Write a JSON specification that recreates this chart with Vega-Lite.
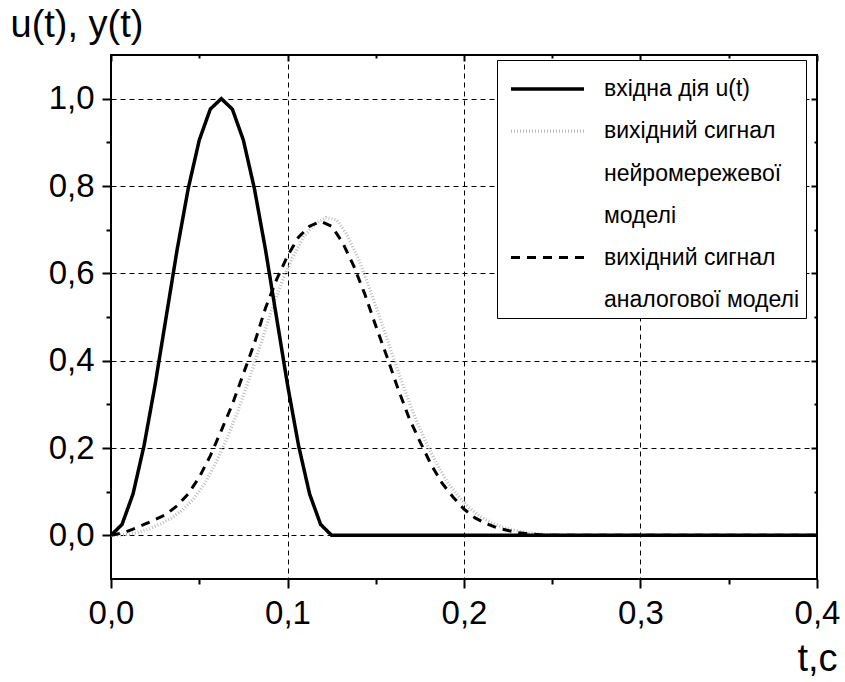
{
  "$schema": "https://vega.github.io/schema/vega-lite/v6.json",
  "width": 706,
  "height": 524,
  "autosize": {"type": "none"},
  "padding": {"left": 111, "top": 55, "right": 28, "bottom": 103},
  "background": "white",
  "config": {
    "font": "Liberation Sans",
    "view": {"stroke": "black", "strokeWidth": 2},
    "axis": {"domain": false}
  },
  "data": {
    "values": [
      {"t": 0, "y": 0, "s": "nn"},
      {"t": 0.00925, "y": 0.002, "s": "nn"},
      {"t": 0.0155, "y": 0.007, "s": "nn"},
      {"t": 0.02175, "y": 0.015, "s": "nn"},
      {"t": 0.028, "y": 0.026, "s": "nn"},
      {"t": 0.03425, "y": 0.04, "s": "nn"},
      {"t": 0.0405, "y": 0.058, "s": "nn"},
      {"t": 0.04675, "y": 0.083, "s": "nn"},
      {"t": 0.053, "y": 0.118, "s": "nn"},
      {"t": 0.05925, "y": 0.165, "s": "nn"},
      {"t": 0.0655, "y": 0.22, "s": "nn"},
      {"t": 0.07175, "y": 0.283, "s": "nn"},
      {"t": 0.078, "y": 0.355, "s": "nn"},
      {"t": 0.08425, "y": 0.43, "s": "nn"},
      {"t": 0.0905, "y": 0.51, "s": "nn"},
      {"t": 0.09675, "y": 0.58, "s": "nn"},
      {"t": 0.103, "y": 0.637, "s": "nn"},
      {"t": 0.10925, "y": 0.684, "s": "nn"},
      {"t": 0.1155, "y": 0.713, "s": "nn"},
      {"t": 0.12175, "y": 0.728, "s": "nn"},
      {"t": 0.128, "y": 0.722, "s": "nn"},
      {"t": 0.13425, "y": 0.685, "s": "nn"},
      {"t": 0.1405, "y": 0.63, "s": "nn"},
      {"t": 0.14675, "y": 0.563, "s": "nn"},
      {"t": 0.153, "y": 0.49, "s": "nn"},
      {"t": 0.15925, "y": 0.416, "s": "nn"},
      {"t": 0.1655, "y": 0.343, "s": "nn"},
      {"t": 0.17175, "y": 0.275, "s": "nn"},
      {"t": 0.178, "y": 0.217, "s": "nn"},
      {"t": 0.18425, "y": 0.166, "s": "nn"},
      {"t": 0.1905, "y": 0.123, "s": "nn"},
      {"t": 0.19675, "y": 0.09, "s": "nn"},
      {"t": 0.203, "y": 0.063, "s": "nn"},
      {"t": 0.20925, "y": 0.043, "s": "nn"},
      {"t": 0.2155, "y": 0.029, "s": "nn"},
      {"t": 0.22175, "y": 0.019, "s": "nn"},
      {"t": 0.228, "y": 0.012, "s": "nn"},
      {"t": 0.23425, "y": 0.007, "s": "nn"},
      {"t": 0.2405, "y": 0.004, "s": "nn"},
      {"t": 0.24675, "y": 0.002, "s": "nn"},
      {"t": 0.253, "y": 0.001, "s": "nn"},
      {"t": 0.263, "y": 0, "s": "nn"},
      {"t": 0.4, "y": 0, "s": "nn"},
      {"t": 0, "y": 0, "s": "analog"},
      {"t": 0.00625, "y": 0.005, "s": "analog"},
      {"t": 0.0125, "y": 0.014, "s": "analog"},
      {"t": 0.01875, "y": 0.025, "s": "analog"},
      {"t": 0.025, "y": 0.036, "s": "analog"},
      {"t": 0.03125, "y": 0.048, "s": "analog"},
      {"t": 0.0375, "y": 0.068, "s": "analog"},
      {"t": 0.04375, "y": 0.095, "s": "analog"},
      {"t": 0.05, "y": 0.133, "s": "analog"},
      {"t": 0.05625, "y": 0.182, "s": "analog"},
      {"t": 0.0625, "y": 0.24, "s": "analog"},
      {"t": 0.06875, "y": 0.3, "s": "analog"},
      {"t": 0.075, "y": 0.37, "s": "analog"},
      {"t": 0.08125, "y": 0.44, "s": "analog"},
      {"t": 0.0875, "y": 0.52, "s": "analog"},
      {"t": 0.09375, "y": 0.585, "s": "analog"},
      {"t": 0.1, "y": 0.64, "s": "analog"},
      {"t": 0.10625, "y": 0.683, "s": "analog"},
      {"t": 0.1125, "y": 0.708, "s": "analog"},
      {"t": 0.11875, "y": 0.719, "s": "analog"},
      {"t": 0.125, "y": 0.708, "s": "analog"},
      {"t": 0.13125, "y": 0.67, "s": "analog"},
      {"t": 0.1375, "y": 0.617, "s": "analog"},
      {"t": 0.14375, "y": 0.553, "s": "analog"},
      {"t": 0.15, "y": 0.48, "s": "analog"},
      {"t": 0.15625, "y": 0.41, "s": "analog"},
      {"t": 0.1625, "y": 0.337, "s": "analog"},
      {"t": 0.16875, "y": 0.27, "s": "analog"},
      {"t": 0.175, "y": 0.215, "s": "analog"},
      {"t": 0.18125, "y": 0.163, "s": "analog"},
      {"t": 0.1875, "y": 0.12, "s": "analog"},
      {"t": 0.19375, "y": 0.088, "s": "analog"},
      {"t": 0.2, "y": 0.06, "s": "analog"},
      {"t": 0.20625, "y": 0.04, "s": "analog"},
      {"t": 0.2125, "y": 0.027, "s": "analog"},
      {"t": 0.21875, "y": 0.017, "s": "analog"},
      {"t": 0.225, "y": 0.011, "s": "analog"},
      {"t": 0.23125, "y": 0.006, "s": "analog"},
      {"t": 0.2375, "y": 0.003, "s": "analog"},
      {"t": 0.24375, "y": 0.001, "s": "analog"},
      {"t": 0.25, "y": 0, "s": "analog"},
      {"t": 0.4, "y": 0, "s": "analog"},
      {"t": 0, "y": 0, "s": "u"},
      {"t": 0.00625, "y": 0.025, "s": "u"},
      {"t": 0.0125, "y": 0.095, "s": "u"},
      {"t": 0.01875, "y": 0.206, "s": "u"},
      {"t": 0.025, "y": 0.345, "s": "u"},
      {"t": 0.03125, "y": 0.5, "s": "u"},
      {"t": 0.0375, "y": 0.655, "s": "u"},
      {"t": 0.04375, "y": 0.794, "s": "u"},
      {"t": 0.05, "y": 0.905, "s": "u"},
      {"t": 0.05625, "y": 0.976, "s": "u"},
      {"t": 0.0625, "y": 1.0, "s": "u"},
      {"t": 0.06875, "y": 0.976, "s": "u"},
      {"t": 0.075, "y": 0.905, "s": "u"},
      {"t": 0.08125, "y": 0.794, "s": "u"},
      {"t": 0.0875, "y": 0.655, "s": "u"},
      {"t": 0.09375, "y": 0.5, "s": "u"},
      {"t": 0.1, "y": 0.345, "s": "u"},
      {"t": 0.10625, "y": 0.206, "s": "u"},
      {"t": 0.1125, "y": 0.095, "s": "u"},
      {"t": 0.11875, "y": 0.025, "s": "u"},
      {"t": 0.125, "y": 0, "s": "u"},
      {"t": 0.4, "y": 0, "s": "u"}
    ]
  },
  "resolve": {"axis": {"x": "independent", "y": "independent"}},
  "layer": [
    {
      "mark": {"type": "line", "strokeJoin": "miter", "strokeCap": "butt"},
      "encoding": {
        "x": {
          "field": "t", "type": "quantitative",
          "scale": {"domain": [0, 0.4], "nice": false, "zero": false},
          "axis": {
            "orient": "bottom",
            "values": [0, 0.05, 0.1, 0.15, 0.2, 0.25, 0.3, 0.35, 0.4],
            "labelExpr": "abs(datum.value*10 - round(datum.value*10)) < 0.001 ? replace(format(datum.value, '.1f'), '.', ',') : ''",
            "labelFontSize": 33, "labelColor": "black", "labelPadding": 9,
            "labelFlush": false, "labelOverlap": false,
            "tickColor": "black", "tickWidth": 2,
            "tickSize": {"condition": {"test": "abs(datum.value*10 - round(datum.value*10)) < 0.001", "value": 9}, "value": 5},
            "grid": true, "gridColor": "black", "gridDash": [5, 4], "gridWidth": 1,
            "gridOpacity": {"condition": {"test": "abs(datum.value*10 - round(datum.value*10)) < 0.001", "value": 1}, "value": 0},
            "title": "t,c", "titleFontSize": 38, "titleFontWeight": "normal", "titleColor": "black",
            "titleAlign": "right", "titleBaseline": "alphabetic", "titleX": 726, "titleY": 91
          }
        },
        "y": {
          "field": "y", "type": "quantitative",
          "scale": {"domain": [-0.1, 1.1], "nice": false, "zero": false},
          "axis": {
            "orient": "left",
            "values": [0, 0.1, 0.2, 0.3, 0.4, 0.5, 0.6, 0.7, 0.8, 0.9, 1.0],
            "labelExpr": "abs(datum.value*5 - round(datum.value*5)) < 0.001 ? replace(format(datum.value, '.1f'), '.', ',') : ''",
            "labelFontSize": 33, "labelColor": "black", "labelPadding": 8,
            "labelFlush": false, "labelOverlap": false,
            "tickColor": "black", "tickWidth": 2,
            "tickSize": {"condition": {"test": "abs(datum.value*5 - round(datum.value*5)) < 0.001", "value": 9}, "value": 5},
            "grid": true, "gridColor": "black", "gridDash": [5, 4], "gridWidth": 1,
            "gridOpacity": {"condition": {"test": "abs(datum.value*5 - round(datum.value*5)) < 0.001", "value": 1}, "value": 0},
            "title": "u(t), y(t)", "titleFontSize": 38, "titleFontWeight": "normal", "titleColor": "black",
            "titleAngle": 0, "titleAlign": "left", "titleBaseline": "alphabetic", "titleX": -101, "titleY": -19
          }
        },
        "color": {
          "field": "s", "type": "nominal",
          "scale": {"domain": ["u", "nn", "analog"], "range": ["black", "#bcbcbc", "black"]},
          "legend": {
            "title": null,
            "orient": "none", "legendX": 386, "legendY": 5,
            "direction": "vertical",
            "symbolType": "M-1.738,0H1.738", "symbolSize": 1764, "symbolOffset": 21.5,
            "labelExpr": "datum.value == 'u' ? 'вхідна дія u(t)' : datum.value == 'nn' ? ['вихідний сигнал', 'нейромережевої', 'моделі'] : [' вихідний сигнал', 'аналогової моделі']",
            "labelFontSize": 23, "labelColor": "black", "labelLimit": 400,
            "labelBaseline": "alphabetic", "labelOffset": 33.5,
            "rowPadding": 7, "padding": 6,
            "strokeColor": "black", "fillColor": "white",
            "encode": {"labels": {"update": {"dy": {"value": 7}, "lineHeight": {"value": 42.5}}}}
          }
        },
        "strokeDash": {
          "field": "s", "type": "nominal",
          "scale": {"domain": ["u", "nn", "analog"], "range": [[1, 0], [1, 2], [9, 7]]}
        },
        "strokeWidth": {
          "field": "s", "type": "nominal",
          "scale": {"domain": ["u", "nn", "analog"], "range": [3.5, 3, 2.5]}
        }
      }
    },
    {
      "mark": {"type": "line", "strokeOpacity": 0},
      "encoding": {
        "detail": {"field": "s", "type": "nominal"},
        "x": {
          "field": "t", "type": "quantitative",
          "axis": {
            "orient": "top", "labels": false, "grid": false, "title": null,
            "values": [0, 0.05, 0.1, 0.15, 0.2, 0.25, 0.3, 0.35, 0.4],
            "tickColor": "black", "tickWidth": 2,
            "tickSize": {"condition": {"test": "abs(datum.value*10 - round(datum.value*10)) < 0.001", "value": -6}, "value": -3}
          }
        },
        "y": {
          "field": "y", "type": "quantitative",
          "axis": {
            "orient": "right", "labels": false, "grid": false, "title": null,
            "values": [0, 0.1, 0.2, 0.3, 0.4, 0.5, 0.6, 0.7, 0.8, 0.9, 1.0],
            "tickColor": "black", "tickWidth": 2,
            "tickSize": {"condition": {"test": "abs(datum.value*5 - round(datum.value*5)) < 0.001", "value": -6}, "value": -3}
          }
        }
      }
    }
  ]
}
